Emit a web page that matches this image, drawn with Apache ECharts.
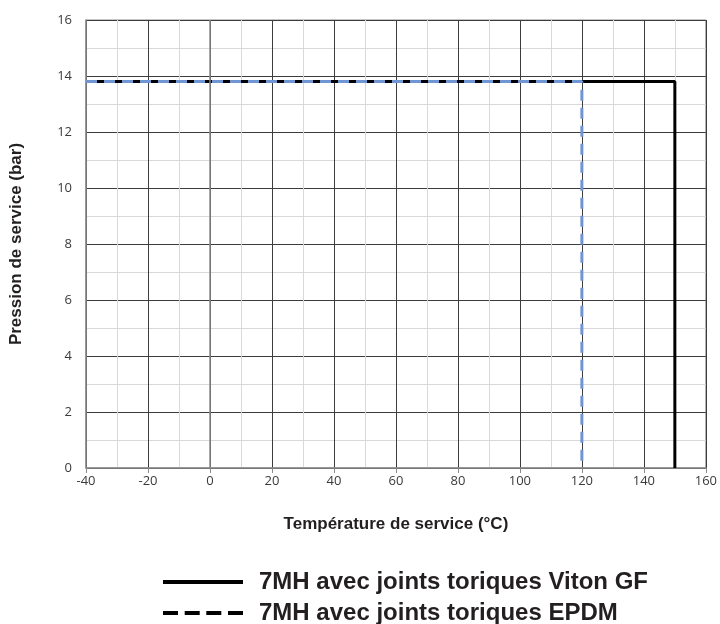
<!DOCTYPE html>
<html>
<head>
<meta charset="utf-8">
<script src="https://cdn.jsdelivr.net/npm/echarts@6/dist/echarts.min.js"></script>
<style>html,body{margin:0;padding:0;background:#fff}#c{width:720px;height:624px}</style>
</head>
<body>
<div id="c"></div>
<script>
const xTitle = 'Température de service (°C)';
const yTitle = 'Pression de service (bar)';
const vitonName = '7MH avec joints toriques Viton GF';
const epdmName = '7MH avec joints toriques EPDM';
const vitonTemp = [-40, 150, 150];
const vitonPress = [13.8, 13.8, 0];
const epdmTemp = [-40, 120, 120];
const epdmPress = [13.8, 13.8, 0];

const chart = echarts.init(document.getElementById('c'));
const lbl = {color: '#3a3a3a', fontFamily: 'Open Sans', fontSize: 13};
const legText = {fontFamily: 'Liberation Sans', fontWeight: 'bold', fontSize: 24, color: '#231f20', lineHeight: 28, padding: [0, 0, 0, 11]};
chart.setOption({
  animation: false,
  grid: {left: 86, right: 14, top: 20, bottom: 156, show: true, borderColor: '#8a8a8a', borderWidth: 1},
  xAxis: {
    type: 'value', min: -40, max: 160, interval: 20,
    name: xTitle, nameLocation: 'middle', nameGap: 48,
    nameTextStyle: {fontFamily: 'Liberation Sans', fontWeight: 'bold', fontSize: 17, color: '#231f20'},
    axisLine: {onZero: false, lineStyle: {color: '#8a8a8a', width: 1.5}},
    axisTick: {show: true, length: 5, lineStyle: {color: '#8a8a8a'}},
    axisLabel: Object.assign({margin: 7}, lbl),
    splitLine: {lineStyle: {color: '#3c3c3c', width: 1}},
    minorTick: {show: false, splitNumber: 2},
    minorSplitLine: {show: true, lineStyle: {color: '#d9d9d9', width: 1}}
  },
  yAxis: {
    type: 'value', min: 0, max: 16, interval: 2,
    name: yTitle, nameLocation: 'middle', nameGap: 61,
    nameTextStyle: {fontFamily: 'Liberation Sans', fontWeight: 'bold', fontSize: 17, color: '#231f20'},
    axisLine: {onZero: false, show: true, lineStyle: {color: '#8a8a8a', width: 1.5}},
    axisTick: {show: false},
    axisLabel: Object.assign({margin: 14}, lbl),
    splitLine: {lineStyle: {color: '#3c3c3c', width: 1}},
    minorTick: {show: false, splitNumber: 2},
    minorSplitLine: {show: true, lineStyle: {color: '#d9d9d9', width: 1}}
  },
  legend: [
    {
      left: 163, top: 568, padding: 0, itemWidth: 80, itemHeight: 4, textStyle: legText,
      data: [{name: vitonName, icon: 'path://M0,0H80V4H0Z', itemStyle: {color: '#000'}}]
    },
    {
      left: 163, top: 599, padding: 0, itemWidth: 80, itemHeight: 4, textStyle: legText,
      data: [{name: epdmName, icon: 'path://M0,0H15V4H0ZM21.7,0H36.7V4H21.7ZM43.3,0H58.3V4H43.3ZM65,0H80V4H65Z', itemStyle: {color: '#000'}}]
    }
  ],
  series: [
    {
      name: vitonName, type: 'line', showSymbol: false, symbol: 'none',
      data: vitonTemp.map((t, i) => [t, vitonPress[i]]),
      lineStyle: {color: '#000', width: 3},
      itemStyle: {color: '#000'},
      markLine: {silent: true, symbol: 'none', label: {show: false},
        lineStyle: {color: '#8a8a8a', width: 1.5, type: 'solid'}, data: [{xAxis: 0}]},
      z: 3
    },
    {
      name: epdmName, type: 'line', showSymbol: false, symbol: 'none',
      data: epdmTemp.map((t, i) => [t, epdmPress[i]]),
      lineStyle: {color: '#6f95d3', width: 3, type: [11, 7]},
      itemStyle: {color: '#000'},
      z: 4
    }
  ]
});
</script>
</body>
</html>
